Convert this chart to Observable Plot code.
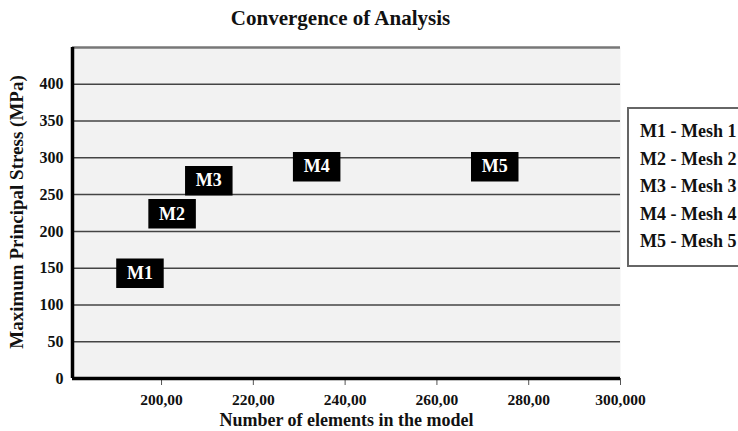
<!DOCTYPE html>
<html>
<head>
<meta charset="utf-8">
<script src="https://cdn.jsdelivr.net/npm/d3@7"></script>
<script src="https://cdn.jsdelivr.net/npm/@observablehq/plot@0.6"></script>
<style>
  html, body { margin: 0; padding: 0; background: #fff; }
  #wrap { position: relative; width: 738px; height: 431px; overflow: hidden; }
  #legend {
    position: absolute; left: 627px; top: 107px; width: 130px; height: 147px;
    border: 2px solid #666; background: #fff; box-sizing: content-box;
    font-family: "Liberation Serif", serif; font-weight: bold; font-size: 18px;
    padding-top: 9px; color: #111;
  }
  #legend div { line-height: 27.5px; padding-left: 11px; white-space: nowrap; }
</style>
</head>
<body>
<div id="wrap"></div>
<script>
// ---- data ----
const meshIds = ["M1", "M2", "M3", "M4", "M5"];
const meshNames = ["Mesh 1", "Mesh 2", "Mesh 3", "Mesh 4", "Mesh 5"];
const elements = [195300, 202300, 210300, 233800, 272600];
const stress = [143, 224, 269, 288, 288];

const xTicks = [200000, 220000, 240000, 260000, 280000, 300000];
const xTickLabels = ["200,00", "220,00", "240,00", "260,00", "280,00", "300,000"];
const yTicks = [0, 50, 100, 150, 200, 250, 300, 350, 400];
const gridLines = [50, 100, 150, 200, 250, 300, 350, 400];
const xDomain = [180600, 300000];
const yDomain = [0, 450];

const title = "Convergence of Analysis";
const xLabel = "Number of elements in the model";
const yLabel = "Maximum Principal Stress (MPa)";

const data = meshIds.map((id, i) => ({id, name: meshNames[i], x: elements[i], y: stress[i]}));

const boxSymbol = {
  draw(context) {
    context.moveTo(-23, -14);
    context.lineTo(23, -14);
    context.lineTo(23, 14);
    context.lineTo(-23, 14);
    context.closePath();
  }
};

const chart = Plot.plot({
  width: 738,
  height: 431,
  marginLeft: 72,
  marginRight: 118,
  marginTop: 47,
  marginBottom: 53,
  style: {background: "transparent", fontFamily: "'Liberation Serif', serif", fontWeight: "bold", color: "#111"},
  x: {domain: xDomain},
  y: {domain: yDomain},
  marks: [
    Plot.frame({fill: "#f2f2f2", stroke: null}),
    Plot.ruleY(gridLines, {stroke: "#444", strokeWidth: 1.5}),
    Plot.ruleY([yDomain[1]], {stroke: "#777", strokeWidth: 2.5}),
    Plot.axisY({ticks: yTicks, tickSize: 0, tickPadding: 9, fontSize: 16, label: null}),
    Plot.axisX({ticks: xTicks, tickFormat: (d, i) => xTickLabels[i], tickSize: 7, tickPadding: 8, stroke: "#555", fontSize: 15.5, label: null}),
    Plot.ruleY([yDomain[0]], {stroke: "#000", strokeWidth: 3.5}),
    Plot.ruleX([xDomain[0]], {stroke: "#000", strokeWidth: 3.5}),
    Plot.dot(data, {x: "x", y: "y", symbol: boxSymbol, r: 10, fill: "#000", stroke: "#000"}),
    Plot.text(data, {x: "x", y: "y", text: "id", fill: "#fff", fontSize: 18, fontWeight: "bold"}),
    Plot.text([title], {frameAnchor: "top", dx: -6, dy: -29, lineAnchor: "middle", textAnchor: "middle", fontSize: 21, fontWeight: "bold", fill: "#111"}),
    Plot.text([xLabel], {frameAnchor: "bottom", dy: 42, lineAnchor: "middle", textAnchor: "middle", fontSize: 18, fontWeight: "bold", fill: "#111"}),
    Plot.text([yLabel], {frameAnchor: "left", dx: -56, dy: -1, rotate: -90, lineAnchor: "middle", textAnchor: "middle", fontSize: 19, fontWeight: "bold", fill: "#111"})
  ]
});

const wrap = document.getElementById("wrap");
wrap.appendChild(chart);

const legend = document.createElement("div");
legend.id = "legend";
data.forEach(d => {
  const row = document.createElement("div");
  row.textContent = `${d.id} - ${d.name}`;
  legend.appendChild(row);
});
wrap.appendChild(legend);
</script>
</body>
</html>
